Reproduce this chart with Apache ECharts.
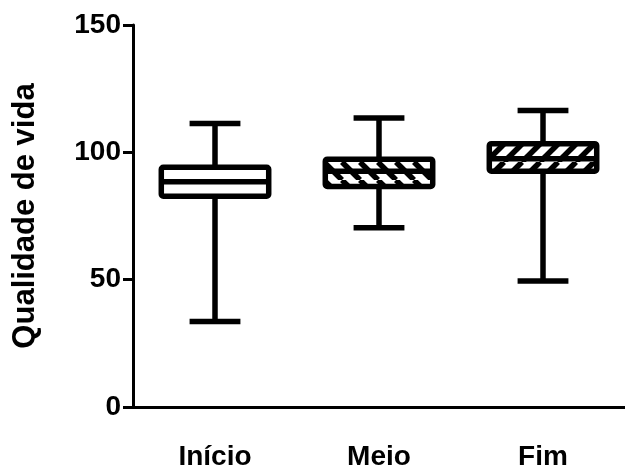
<!DOCTYPE html>
<html>
<head>
<meta charset="utf-8">
<script src="https://cdn.jsdelivr.net/npm/echarts@6/dist/echarts.min.js"></script>
<style>html,body{margin:0;padding:0;background:#fff}#c{width:625px;height:471px}</style>
</head>
<body>
<div id="c"></div>
<script>
var categories = ['Início', 'Meio', 'Fim'];
var minValues = [33.6, 70.4, 49.5];
var q1Values = [82.8, 86.6, 92.6];
var medianValues = [88.4, 92.6, 97.5];
var q3Values = [94.1, 97.3, 103.4];
var maxValues = [111.3, 113.5, 116.4];
var hatchKinds = ['none', 'back', 'fwd'];
var yTicks = [0, 50, 100, 150];

function makeHatch(dir) {
  var s = 18;
  var cv = document.createElement('canvas');
  cv.width = s; cv.height = s;
  var ctx = cv.getContext('2d');
  ctx.fillStyle = '#fff';
  ctx.fillRect(0, 0, s, s);
  ctx.strokeStyle = '#000';
  ctx.lineWidth = 5.5;
  for (var k = -1; k <= 1; k++) {
    ctx.beginPath();
    if (dir === 'back') {
      ctx.moveTo(k * s, 0); ctx.lineTo(k * s + s, s);
    } else {
      ctx.moveTo(k * s, s); ctx.lineTo(k * s + s, 0);
    }
    ctx.stroke();
  }
  return { image: cv, repeat: 'repeat' };
}
var fills = { none: '#fff', back: makeHatch('back'), fwd: makeHatch('fwd') };

var data = categories.map(function (c, i) {
  return [i, minValues[i], q1Values[i], medianValues[i], q3Values[i], maxValues[i]];
});

var chart = echarts.init(document.getElementById('c'));
var font = 'Liberation Sans, Arial, sans-serif';
chart.setOption({
  animation: false,
  grid: { left: 133, right: -5, top: 25, bottom: 62, containLabel: false },
  xAxis: {
    type: 'category',
    data: categories,
    axisLine: { lineStyle: { color: '#000', width: 3 } },
    axisTick: { alignWithLabel: true, length: 10, lineStyle: { color: '#000', width: 3 } },
    axisLabel: { color: '#000', fontSize: 28, fontWeight: 'bold', fontFamily: font, margin: 36 },
    splitLine: { show: false }
  },
  yAxis: {
    type: 'value',
    min: yTicks[0], max: yTicks[yTicks.length - 1], interval: 50,
    name: 'Qualidade de vida',
    nameLocation: 'middle',
    nameRotate: 90,
    nameGap: 92,
    nameTextStyle: { color: '#000', fontSize: 31, fontWeight: 'bold', fontFamily: font },
    axisLine: { show: true, lineStyle: { color: '#000', width: 3 } },
    axisTick: { show: true, length: 10, lineStyle: { color: '#000', width: 3 } },
    axisLabel: { color: '#000', fontSize: 28, fontWeight: 'bold', fontFamily: font, margin: 12 },
    splitLine: { show: false }
  },
  series: [{
    type: 'custom',
    data: data,
    encode: { x: 0, y: [1, 2, 3, 4, 5] },
    renderItem: function (params, api) {
      var idx = params.dataIndex;
      var x = api.value(0);
      var band = api.size([1, 0])[0];
      var bw = band * 0.655;
      var cw = band * 0.31;
      var pMin = api.coord([x, api.value(1)]);
      var pQ1 = api.coord([x, api.value(2)]);
      var pMed = api.coord([x, api.value(3)]);
      var pQ3 = api.coord([x, api.value(4)]);
      var pMax = api.coord([x, api.value(5)]);
      var cx = pMin[0];
      var lw = 5.5;
      var ls = { stroke: '#000', lineWidth: lw };
      return {
        type: 'group',
        children: [
          { type: 'line', shape: { x1: cx, y1: pMax[1], x2: cx, y2: pQ3[1] }, style: ls },
          { type: 'line', shape: { x1: cx, y1: pQ1[1], x2: cx, y2: pMin[1] }, style: ls },
          { type: 'line', shape: { x1: cx - cw / 2, y1: pMax[1], x2: cx + cw / 2, y2: pMax[1] }, style: ls },
          { type: 'line', shape: { x1: cx - cw / 2, y1: pMin[1], x2: cx + cw / 2, y2: pMin[1] }, style: ls },
          { type: 'rect', shape: { x: cx - bw / 2, y: pQ3[1], width: bw, height: pQ1[1] - pQ3[1], r: 2 },
            style: { fill: fills[hatchKinds[idx]], stroke: '#000', lineWidth: lw, lineJoin: 'round' } },
          { type: 'line', shape: { x1: cx - bw / 2, y1: pMed[1], x2: cx + bw / 2, y2: pMed[1] }, style: ls }
        ]
      };
    }
  }]
});
</script>
</body>
</html>
